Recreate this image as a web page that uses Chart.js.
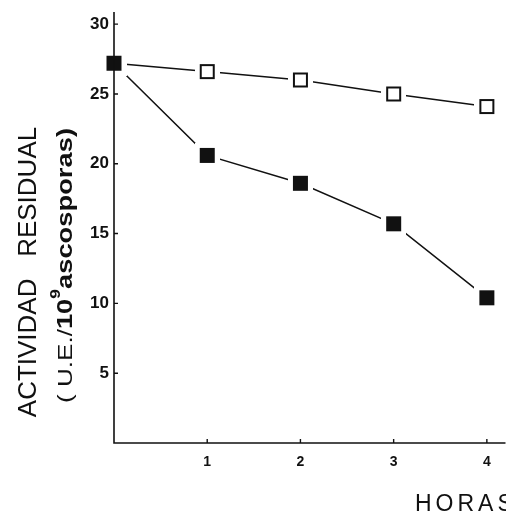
<!DOCTYPE html>
<html>
<head>
<meta charset="utf-8">
<script src="https://cdn.jsdelivr.net/npm/chart.js@4.4.1/dist/chart.umd.min.js"></script>
<style>
  html, body { margin: 0; padding: 0; background: #fff; }
  #wrap { width: 506px; height: 516px; }
</style>
</head>
<body>
<div id="wrap"><canvas id="chart"></canvas></div>
<script>
// data
const horas = [0, 1, 2, 3, 4];
const abiertos = [27.2, 26.6, 26.0, 25.0, 24.1];
const cerrados = [27.2, 20.6, 18.6, 15.7, 10.4];
const xTicks = [1, 2, 3, 4];
const yTicks = [5, 10, 15, 20, 25, 30];

const ink = "#111";

// square markers with a white margin so the lines stop short of them
function marker(filled) {
  const c = document.createElement("canvas");
  c.width = 25;
  c.height = 25;
  const g = c.getContext("2d");
  g.fillStyle = "#fff";
  g.fillRect(0, 0, 25, 25);
  if (filled) {
    g.fillStyle = ink;
    g.fillRect(5, 5, 15, 15);
  } else {
    g.strokeStyle = ink;
    g.lineWidth = 2;
    g.strokeRect(6, 6, 13, 13);
  }
  return c;
}

const axesPlugin = {
  id: "axes",
  afterDatasetsDraw(chart) {
    const ctx = chart.ctx;
    const a = chart.chartArea;
    const xs = chart.scales.x;
    const ys = chart.scales.y;
    ctx.save();
    ctx.strokeStyle = ink;
    ctx.lineWidth = 1.6;
    ctx.beginPath();
    ctx.moveTo(a.left, a.top);
    ctx.lineTo(a.left, a.bottom);
    ctx.lineTo(a.right, a.bottom);
    ctx.stroke();
    ctx.lineWidth = 1.4;
    ctx.beginPath();
    yTicks.forEach(function (v) {
      const p = ys.getPixelForValue(v);
      ctx.moveTo(a.left, p);
      ctx.lineTo(a.left + 4, p);
    });
    xTicks.forEach(function (v) {
      const p = xs.getPixelForValue(v);
      ctx.moveTo(p, a.bottom);
      ctx.lineTo(p, a.bottom - 4);
    });
    ctx.stroke();
    ctx.restore();
  },
  afterDraw(chart) {
    const ctx = chart.ctx;
    ctx.save();
    ctx.fillStyle = ink;
    ctx.textBaseline = "alphabetic";

    // first line of the y title
    ctx.translate(36, 272);
    ctx.rotate(-Math.PI / 2);
    ctx.textAlign = "center";
    ctx.font = "26px 'Liberation Sans'";
    ctx.fillText("ACTIVIDAD   RESIDUAL", 0, 0);
    ctx.restore();

    // second line, mixed weights with superscript
    const parts = [
      { t: "( U.E./", f: "21px 'Liberation Sans'", dy: 0 },
      { t: "10", f: "bold 22px 'Liberation Sans'", dy: 0 },
      { t: "9", f: "bold 14px 'Liberation Sans'", dy: -12 },
      { t: "ascosporas)", f: "bold 22px 'Liberation Sans'", dy: 0 },
    ];
    let total = 0;
    parts.forEach(function (p) {
      ctx.font = p.f;
      p.w = ctx.measureText(p.t).width;
      total += p.w;
    });
    ctx.save();
    ctx.fillStyle = ink;
    ctx.textAlign = "left";
    ctx.textBaseline = "alphabetic";
    ctx.translate(72, 403);
    ctx.rotate(-Math.PI / 2);
    ctx.scale(275 / total, 1);
    let x = 0;
    parts.forEach(function (p) {
      ctx.font = p.f;
      ctx.fillText(p.t, x, p.dy);
      x += p.w;
    });
    ctx.restore();

    // x title, runs off the right edge like the original
    ctx.save();
    ctx.fillStyle = ink;
    ctx.font = "23px 'Liberation Sans'";
    ctx.letterSpacing = "4px";
    ctx.textAlign = "left";
    ctx.fillText("HORAS", 415, 511);
    ctx.restore();
  },
};

const lineStyle = {
  borderColor: ink,
  backgroundColor: ink,
  borderWidth: 1.5,
  pointRadius: 0.5,
  pointHoverRadius: 0,
  pointBorderWidth: 0,
  clip: false,
};

const ctx = document.getElementById("chart").getContext("2d");
const chart = new Chart(ctx, {
  type: "line",
  data: {
    datasets: [
      Object.assign({
        label: "cerrados",
        data: horas.map(function (h, i) { return { x: h, y: cerrados[i] }; }),
        pointStyle: marker(true),
        order: 1,
      }, lineStyle),
      Object.assign({
        label: "abiertos",
        data: horas.map(function (h, i) { return { x: h, y: abiertos[i] }; }),
        pointStyle: marker(false),
        order: 2,
      }, lineStyle),
    ],
  },
  options: {
    responsive: true,
    maintainAspectRatio: false,
    animation: false,
    events: [],
    layout: { padding: { top: 12, right: 0, left: 0, bottom: 0 } },
    plugins: {
      legend: { display: false },
      tooltip: { enabled: false },
    },
    scales: {
      x: {
        type: "linear",
        min: 0,
        max: 4.2,
        afterBuildTicks(s) { s.ticks = xTicks.map(function (v) { return { value: v }; }); },
        afterFit(s) {
          s.height = 73;
          s.paddingLeft = 0;
          s.paddingRight = 0;
        },
        grid: { display: false, drawTicks: false },
        border: { display: false },
        ticks: {
          padding: 11,
          color: ink,
          font: { family: "'Liberation Sans'", size: 14, weight: "bold" },
        },
      },
      y: {
        min: 0,
        max: 30.87,
        afterBuildTicks(s) { s.ticks = yTicks.map(function (v) { return { value: v }; }); },
        afterFit(s) {
          s.width = 114;
          s.paddingTop = 0;
          s.paddingBottom = 0;
        },
        grid: { display: false, drawTicks: false },
        border: { display: false },
        ticks: {
          padding: 5,
          color: ink,
          font: { family: "'Liberation Sans'", size: 17, weight: "bold" },
        },
      },
    },
  },
  plugins: [axesPlugin],
});
</script>
</body>
</html>
